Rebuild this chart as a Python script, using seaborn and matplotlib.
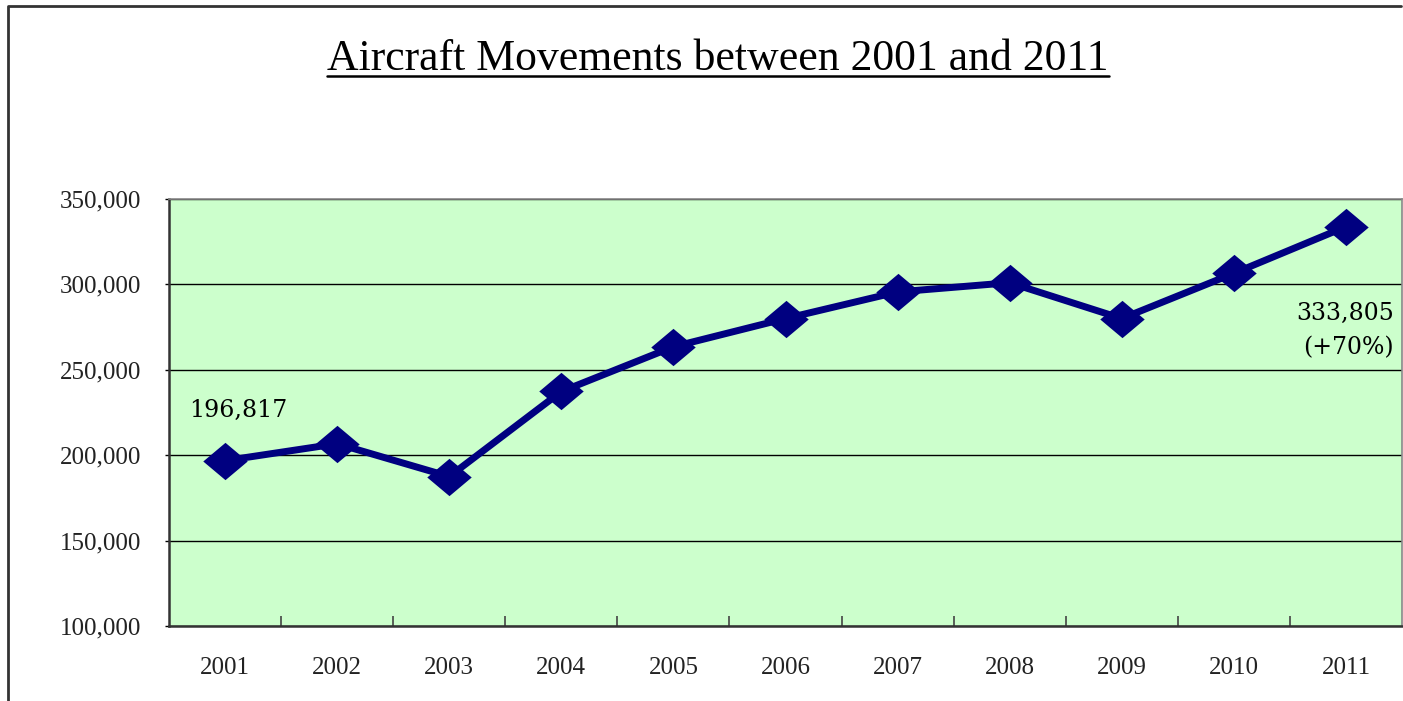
import numpy as np
import matplotlib
matplotlib.use("Agg")
import matplotlib.pyplot as plt
from matplotlib.path import Path
from matplotlib.lines import Line2D
from matplotlib.ticker import FuncFormatter, MultipleLocator
import seaborn as sns

# data
years = ["2001", "2002", "2003", "2004", "2005", "2006",
         "2007", "2008", "2009", "2010", "2011"]
movements = [196817, 206700, 187500, 237300, 263500, 280000,
             295600, 301000, 280000, 306500, 333805]
first_label = "196,817"
last_label = "333,805\n(+70%)"
title = "Aircraft Movements between 2001 and 2011"

sns.set_theme(style="white")
plt.rcParams["font.family"] = ["Liberation Serif", "DejaVu Serif"]

fig = plt.figure(figsize=(14.03, 7.01), dpi=100)
ax = fig.add_axes([169 / 1403, 1 - 626 / 701, 1233 / 1403, 427 / 701])
ax.set_facecolor("#CCFFCC")

# flattened diamond marker
diamond = Path([(-1, 0), (0, 0.84), (1, 0), (0, -0.84), (-1, 0)],
               [Path.MOVETO, Path.LINETO, Path.LINETO, Path.LINETO, Path.CLOSEPOLY])

x = np.arange(len(years))
sns.lineplot(x=x, y=movements, ax=ax, color="#000080", linewidth=5,
             marker=diamond, markersize=32, markeredgewidth=0,
             markerfacecolor="#000080", zorder=5)

ax.set_xlim(-0.5, len(years) - 0.5)
ax.set_ylim(100000, 350000)
ax.yaxis.set_major_locator(MultipleLocator(50000))
ax.yaxis.set_major_formatter(FuncFormatter(lambda v, p: f"{int(v):,}"))
ax.grid(axis="y", color="black", linewidth=1)
ax.set_xticks(x)
ax.set_xticklabels(years)
ax.set_xticks(x[:-1] + 0.5, minor=True)

ax.tick_params(axis="x", which="major", length=0, pad=22, labelsize=18, colors="#222222")
ax.tick_params(axis="x", which="minor", length=7, width=1.2, direction="in",
               color="#444444", bottom=True)
ax.tick_params(axis="y", which="major", length=3, width=1, color="black",
               direction="out", left=True, pad=17, labelsize=18, labelcolor="#222222")

for side in ["left", "bottom"]:
    ax.spines[side].set_color("#333333")
    ax.spines[side].set_linewidth(1.8)
for side in ["top", "right"]:
    ax.spines[side].set_color("#888888")
    ax.spines[side].set_linewidth(1.2)

ax.set_xlabel("")
ax.set_ylabel("")

ax.annotate(first_label, xy=(x[0], movements[0]), xytext=(-26, 36),
            textcoords="offset points", ha="left", va="center",
            fontsize=17, family=["DejaVu Serif"], color="black")
ax.annotate(last_label, xy=(len(years) - 0.5, movements[-1]),
            xytext=(-6, -75), textcoords="offset points", ha="right",
            va="center", fontsize=17, family=["DejaVu Serif"],
            color="black", linespacing=1.6)

# title with underline
t = fig.text(718 / 1403, 1 - 70 / 701, title, ha="center", va="baseline",
             fontsize=31.5, color="black")
fig.canvas.draw()
bb = t.get_window_extent().transformed(fig.transFigure.inverted())
uy = 1 - 76 / 701
fig.add_artist(Line2D([bb.x0, bb.x1], [uy, uy],
                      transform=fig.transFigure, color="black", linewidth=1.8))

# outer chart frame (left and top edges visible)
fig.add_artist(Line2D([8 / 1403, 8 / 1403, 1401 / 1403],
                      [0, 1 - 6 / 701, 1 - 6 / 701],
                      transform=fig.transFigure, color="#333333", linewidth=2))

fig.savefig("out.png", dpi=100)
